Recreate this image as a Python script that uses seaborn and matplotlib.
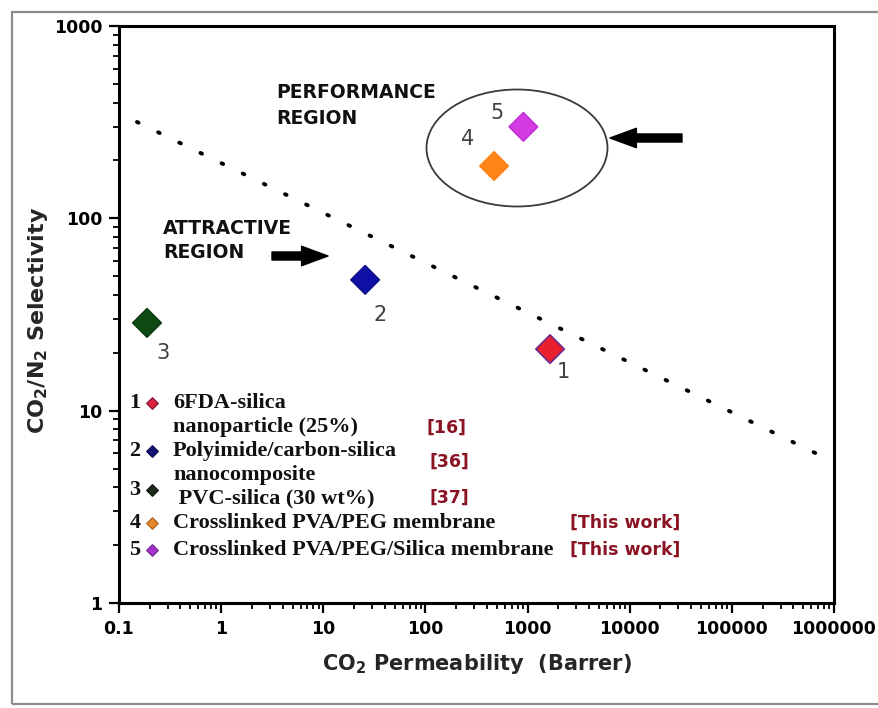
import numpy as np
import pandas as pd
import matplotlib
matplotlib.use('Agg')
import matplotlib.pyplot as plt
import seaborn as sns
from matplotlib.patches import Ellipse, Rectangle
from matplotlib.ticker import NullFormatter, LogLocator

# ---------------- data ----------------
point_ids = ['1', '2', '3', '4', '5']
co2_permeability = [1660, 25.7, 0.188, 470, 910]
co2_n2_selectivity = [20.9, 47.9, 28.6, 187, 299]
point_colors = ['#e8202c', '#1010a6', '#0d4a14', '#ff8418', '#d43ce2']
point_edges = ['#6a2a8a', '#10108a', '#0a3a10', '#ff8418', '#c030d8']

bound_permeability = [0.15, 1.0e6]
bound_selectivity = [317, 5.4]

x_ticks = [0.1, 1, 10, 100, 1000, 10000, 100000, 1000000]
x_tick_labels = ['0.1', '1', '10', '100', '1000', '10000', '100000', '1000000']
y_ticks = [1, 10, 100, 1000]
y_tick_labels = ['1', '10', '100', '1000']

legend_numbers = ['1', '2', '3', '4', '5']
legend_texts = [['6FDA-silica', 'nanoparticle (25%)'],
                ['Polyimide/carbon-silica', 'nanocomposite'],
                [' PVC-silica (30 wt%)'],
                ['Crosslinked PVA/PEG membrane'],
                ['Crosslinked PVA/PEG/Silica membrane']]
legend_refs = ['[16]', '[36]', '[37]', '[This work]', '[This work]']
legend_marker_colors = ['#e0203c', '#121272', '#1c2c1c', '#e88a2c', '#a632cc']
legend_marker_edges = ['#8a1a3a', '#0a0a50', '#101810', '#b06a20', '#7a2a9a']

# ---------------- layout (pixels) ----------------
W, H = 879, 708
AX_L, AX_R, AX_T, AX_B = 119, 834, 26, 603

sns.set_theme(style='ticks')
plt.rcParams['font.family'] = ['DejaVu Sans']
plt.rcParams['mathtext.fontset'] = 'dejavusans'

fig = plt.figure(figsize=(W / 100, H / 100), dpi=100)
fig.patch.set_facecolor('white')
ax = fig.add_axes([AX_L / W, 1 - AX_B / H, (AX_R - AX_L) / W, (AX_B - AX_T) / H])
ax.set_xscale('log')
ax.set_yscale('log')


def fp(x, y):
    return (x / W, 1 - y / H)


def axp(x, y):
    return ((x - AX_L) / (AX_R - AX_L), (AX_B - y) / (AX_B - AX_T))


df = pd.DataFrame({'perm': co2_permeability, 'sel': co2_n2_selectivity, 'id': point_ids})
bound_df = pd.DataFrame({'perm': bound_permeability, 'sel': bound_selectivity})

sns.lineplot(data=bound_df, x='perm', y='sel', ax=ax, color='black', linewidth=2.8,
             linestyle=(0, (0.45, 5.6)), dash_capstyle='round', zorder=2)
sns.scatterplot(data=df, x='perm', y='sel', hue='id',
                palette=dict(zip(point_ids, point_colors)), marker='D', s=210,
                linewidth=1.2, legend=False, ax=ax, zorder=3)
ax.collections[-1].set_edgecolor(point_edges)

ax.set_xlim(0.1, 1e6)
ax.set_ylim(1, 1000)
ax.set_xticks(x_ticks, labels=x_tick_labels, fontsize=12.5, fontweight='bold')
ax.set_yticks(y_ticks, labels=y_tick_labels, fontsize=12.5, fontweight='bold')
ax.xaxis.set_minor_locator(LogLocator(base=10, subs=np.arange(2, 10), numticks=100))
ax.yaxis.set_minor_locator(LogLocator(base=10, subs=np.arange(2, 10), numticks=100))
ax.xaxis.set_minor_formatter(NullFormatter())
ax.yaxis.set_minor_formatter(NullFormatter())
ax.tick_params(which='major', direction='out', length=7, width=1.6, pad=5, colors='black')
ax.tick_params(which='minor', direction='out', length=4, width=1.3, colors='black')
ax.tick_params(top=False, right=False, which='both')
for sp in ax.spines.values():
    sp.set_visible(True)
    sp.set_linewidth(2.2)
    sp.set_color('black')

ax.set_xlabel('CO$_\\mathbf{2}$ Permeability  (Barrer)', fontsize=15, fontweight='bold')
ax.set_ylabel('CO$_\\mathbf{2}$/N$_\\mathbf{2}$ Selectivity', fontsize=16, fontweight='bold')
ax.xaxis.set_label_coords(0.5, -0.085)
ax.yaxis.set_label_coords(-0.097, 0.49)

# point labels
label_offsets = [(9.4, -16.6), (10.8, -25.2), (11.5, -21.6), (-18.7, 19.4), (-18.7, 10.1)]
for pid, px, py, off in zip(point_ids, co2_permeability, co2_n2_selectivity, label_offsets):
    ax.annotate(pid, (px, py), xytext=off, textcoords='offset points', fontsize=15,
                color='#404040', ha='center', va='center')

# performance region ellipse and arrows
ax.add_patch(Ellipse(axp(517, 148), 181 / (AX_R - AX_L), 117 / (AX_B - AX_T),
                     transform=ax.transAxes, fill=False, ec='#3a3a3a', lw=1.3))
arrow_style = 'simple,head_length=1.9,head_width=1.4,tail_width=0.58'
ax.annotate('', xy=axp(610, 138), xytext=axp(682, 138), xycoords='axes fraction',
            arrowprops=dict(arrowstyle=arrow_style, color='black', shrinkA=0, shrinkB=0,
                            mutation_scale=10))
ax.annotate('', xy=axp(328, 256), xytext=axp(272, 256), xycoords='axes fraction',
            arrowprops=dict(arrowstyle=arrow_style, color='black', shrinkA=0, shrinkB=0,
                            mutation_scale=10))

region_kw = dict(fontsize=13.5, fontweight='bold', color='#111111', ha='left', va='center')
fig.text(*fp(276, 93), 'PERFORMANCE', **region_kw)
fig.text(*fp(276, 119), 'REGION', **region_kw)
fig.text(*fp(163, 228), 'ATTRACTIVE', **region_kw)
fig.text(*fp(163, 253), 'REGION', **region_kw)

# custom legend
num_rows_y = [403, 451, 490, 523, 550]
text_rows_y = [[403, 427], [451, 475], [498], [523], [550]]
ref_pos = [(427, 428), (430, 462), (430, 498), (570, 523), (570, 550)]
serif_kw = dict(family=['Liberation Serif', 'DejaVu Serif'], fontsize=16, fontweight='bold',
                color='#111111', va='center')
for i, num in enumerate(legend_numbers):
    fig.text(*fp(135, num_rows_y[i]), num, ha='center', **serif_kw)
    ax.scatter([axp(152, num_rows_y[i])[0]], [axp(152, num_rows_y[i])[1]], marker='D', s=34,
               color=legend_marker_colors[i], edgecolor=legend_marker_edges[i], linewidth=1,
               transform=ax.transAxes, clip_on=False, zorder=4)
    for line, yy in zip(legend_texts[i], text_rows_y[i]):
        fig.text(*fp(173, yy), line, ha='left', **serif_kw)
    fig.text(*fp(*ref_pos[i]), legend_refs[i], fontsize=12.5, fontweight='bold',
             color='#8b1424', ha='left', va='center')

# outer frame
fig.add_artist(Rectangle(fp(12, 704), 1.2, (704 - 12) / H, transform=fig.transFigure,
                         fill=False, ec='#8c8c8c', lw=1.6))

fig.savefig('out.png', dpi=100)
